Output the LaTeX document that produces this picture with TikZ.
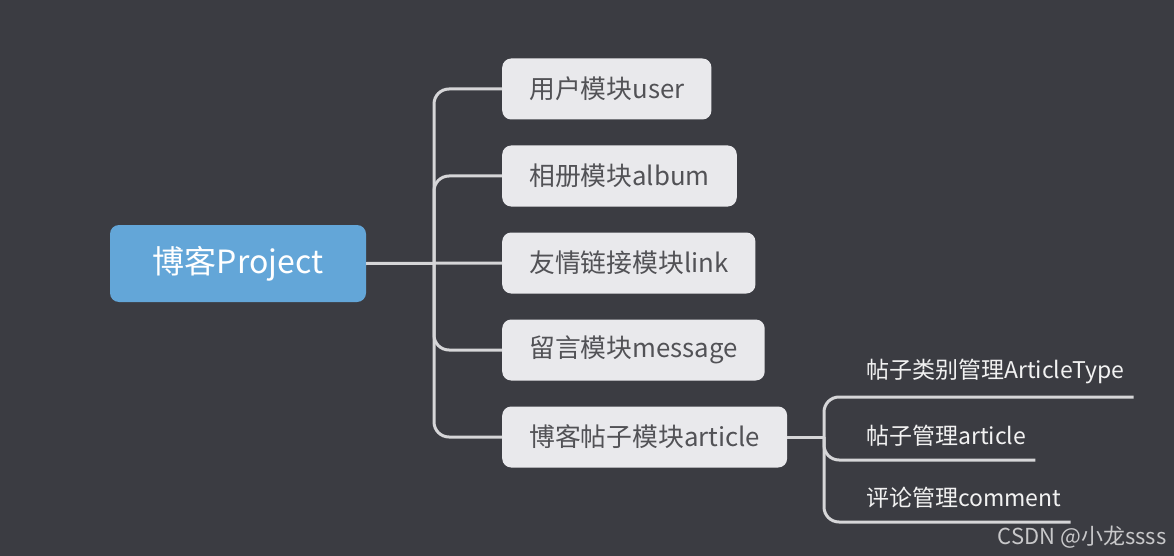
\documentclass[tikz,border=0pt]{standalone}
\usepackage{fontspec}
\setmainfont{Noto Sans CJK SC}
\usetikzlibrary{calc,positioning}
\definecolor{bgdark}{RGB}{59,60,66}
\definecolor{rootblue}{RGB}{99,166,216}
\definecolor{boxgray}{RGB}{233,233,236}
\definecolor{boxtext}{RGB}{82,82,86}
\definecolor{wiregray}{RGB}{214,214,216}
\definecolor{leaftext}{RGB}{242,242,242}
\definecolor{marktext}{RGB}{200,200,202}

\begin{document}
\begin{tikzpicture}[x=1pt, y=-1pt,
    rootbox/.style={fill=rootblue, rounded corners=9pt, text=white, font=\fontsize{32}{36}\selectfont, minimum width=256pt, minimum height=77pt},
    modbox/.style={fill=boxgray, rounded corners=9pt, text=boxtext, font=\fontsize{25.8}{30}\selectfont, minimum height=61pt, inner xsep=27pt, anchor=west},
    leaf/.style={text=leaftext, font=\fontsize{23}{27}\selectfont, inner xsep=9pt, inner ysep=13pt, anchor=south west},
    wire/.style={draw=wiregray, line width=3pt, rounded corners=15pt}]
    % Sfondo
    \fill[bgdark] (0,0) rectangle (1174,556);
    \useasboundingbox (0,0) rectangle (1174,556);

    % Nodo centrale e moduli
    \node[rootbox] (root) at (238,263.5) {博客Project};
    \node[modbox] (user) at (502,89) {用户模块user};
    \node[modbox] (album) at (502,176) {相册模块album};
    \node[modbox] (link) at (502,263) {友情链接模块link};
    \node[modbox] (message) at (502,350) {留言模块message};
    \node[modbox] (article) at (502,437) {博客帖子模块article};

    \coordinate (spine) at (434,263);
    \draw[wire] (root.east) -- (link.west);
    \foreach \m in {user,album,message,article}
        \draw[wire] (spine) |- (\m.west);

    % Sottomoduli di article
    \node[leaf] (atype) at (857,397) {帖子类别管理ArticleType};
    \node[leaf] (apost) at (857,460) {帖子管理article};
    \node[leaf] (acomment) at (857,522) {评论管理comment};

    \coordinate (subspine) at (824,437);
    \draw[wire] (article.east) -- (subspine);
    \foreach \l in {atype,apost,acomment}
        \draw[wire] (subspine) |- (\l.south west) -- (\l.south east);

    \node[anchor=east, text=marktext, font=\fontsize{22}{26}\selectfont] (mark) at (1170,537) {CSDN @小龙ssss};
\end{tikzpicture}
\end{document}
